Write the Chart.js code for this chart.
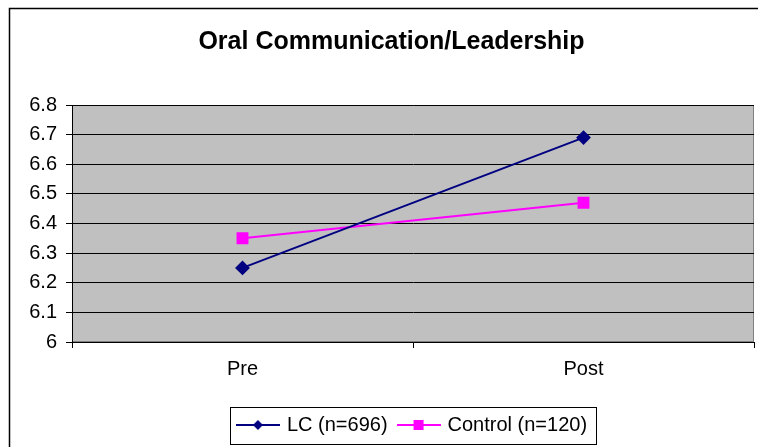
<!DOCTYPE html>
<html>
<head>
<meta charset="utf-8">
<script src="https://cdn.jsdelivr.net/npm/chart.js@4"></script>
<style>
  html, body { margin: 0; padding: 0; background: #fff; }
  #wrap { width: 758px; height: 447px; }
</style>
</head>
<body>
<div id="wrap"><canvas id="chart" width="758" height="447"></canvas></div>
<script>
const categories = ['Pre', 'Post'];
const lcValues = [6.25, 6.69];
const controlValues = [6.35, 6.47];
const seriesNames = ['LC (n=696)', 'Control (n=120)'];

const FONT = '"Liberation Sans", Arial, sans-serif';

// little line+marker icons for the legend, like Excel draws them
function legendIcon(color, shape) {
    const c = document.createElement('canvas');
    c.width = 44;
    c.height = 14;
    const g = c.getContext('2d');
    g.strokeStyle = color;
    g.lineWidth = 2;
    g.beginPath();
    g.moveTo(0, 7);
    g.lineTo(44, 7);
    g.stroke();
    g.fillStyle = color;
    g.beginPath();
    if (shape === 'diamond') {
        g.moveTo(22, 2);
        g.lineTo(27, 7);
        g.lineTo(22, 12);
        g.lineTo(17, 7);
        g.closePath();
    } else {
        g.rect(17, 2, 10, 10);
    }
    g.fill();
    return c;
}

const frame = {
    id: 'frame',
    beforeDraw(chart) {
        const ctx = chart.ctx;
        const a = chart.chartArea;
        ctx.save();
        // outer chart border
        ctx.strokeStyle = '#000';
        ctx.lineWidth = 1.5;
        ctx.beginPath();
        ctx.moveTo(9.5, 460);
        ctx.lineTo(9.5, 8.5);
        ctx.lineTo(770, 8.5);
        ctx.stroke();
        // gray plot area
        ctx.fillStyle = '#C0C0C0';
        ctx.fillRect(a.left, a.top, a.right - a.left, a.bottom - a.top);
        ctx.strokeStyle = '#808080';
        ctx.lineWidth = 1;
        ctx.strokeRect(a.left + 0.5, a.top + 0.5, a.right - a.left - 1, a.bottom - a.top - 1);
        ctx.restore();
    },
    afterDraw(chart) {
        const boxes = chart.legend.legendHitBoxes;
        if (!boxes || !boxes.length) return;
        const first = boxes[0];
        const last = boxes[boxes.length - 1];
        const ctx = chart.ctx;
        ctx.save();
        ctx.strokeStyle = '#000';
        ctx.lineWidth = 1;
        const x0 = Math.round(first.left - 9) + 0.5;
        const x1 = Math.round(last.left + last.width + 9) + 0.5;
        const y0 = Math.round(first.top - 8) + 0.5;
        const y1 = Math.round(first.top + first.height + 9) + 0.5;
        ctx.strokeRect(x0, y0, x1 - x0, y1 - y0);
        ctx.restore();
    }
};

const icons = [legendIcon('#000080', 'diamond'), legendIcon('#FF00FF', 'square')];

new Chart(document.getElementById('chart'), {
    type: 'line',
    data: {
        labels: categories,
        datasets: [{
            label: seriesNames[0],
            data: lcValues,
            borderColor: '#000080',
            backgroundColor: '#000080',
            borderWidth: 2,
            pointStyle: 'rectRot',
            pointRadius: 6,
            pointHoverRadius: 6,
            fill: false
        }, {
            label: seriesNames[1],
            data: controlValues,
            borderColor: '#FF00FF',
            backgroundColor: '#FF00FF',
            borderWidth: 2,
            pointStyle: 'rect',
            pointRadius: 7,
            pointHoverRadius: 7,
            fill: false
        }]
    },
    options: {
        responsive: false,
        animation: false,
        layout: {
            autoPadding: false,
            padding: { left: 29, right: 4, top: 10, bottom: 2 }
        },
        plugins: {
            title: {
                display: true,
                text: 'Oral Communication/Leadership',
                color: '#000',
                font: { family: FONT, size: 25, weight: 'bold' },
                padding: { top: 17, bottom: 48 }
            },
            legend: {
                position: 'bottom',
                fullSize: false,
                labels: {
                    color: '#000',
                    font: { family: FONT, size: 20 },
                    usePointStyle: true,
                    pointStyleWidth: 38,
                    padding: 12,
                    generateLabels(chart) {
                        return chart.data.datasets.map((ds, i) => ({
                            text: ds.label,
                            pointStyle: icons[i],
                            fillStyle: ds.borderColor,
                            strokeStyle: ds.borderColor,
                            fontColor: '#000',
                            lineWidth: 0,
                            hidden: false,
                            datasetIndex: i
                        }));
                    }
                }
            },
            tooltip: { enabled: false }
        },
        scales: {
            x: {
                offset: true,
                afterFit(scale) {
                    scale.height = 61;
                    scale.paddingLeft = 0;
                    scale.paddingRight = 0;
                },
                grid: {
                    offset: true,
                    drawOnChartArea: false,
                    tickLength: 6,
                    color: '#000'
                },
                border: { color: '#000', width: 1 },
                ticks: {
                    color: '#000',
                    padding: 9,
                    font: { family: FONT, size: 20 }
                }
            },
            y: {
                min: 6,
                max: 6.8,
                afterFit(scale) { scale.width = 43; },
                grid: {
                    color: '#000',
                    lineWidth: 1,
                    tickLength: 6
                },
                border: { color: '#000', width: 1 },
                ticks: {
                    stepSize: 0.1,
                    color: '#000',
                    padding: 9,
                    font: { family: FONT, size: 20 },
                    callback: v => Math.round(v * 10) / 10
                }
            }
        }
    },
    plugins: [frame]
});
</script>
</body>
</html>
